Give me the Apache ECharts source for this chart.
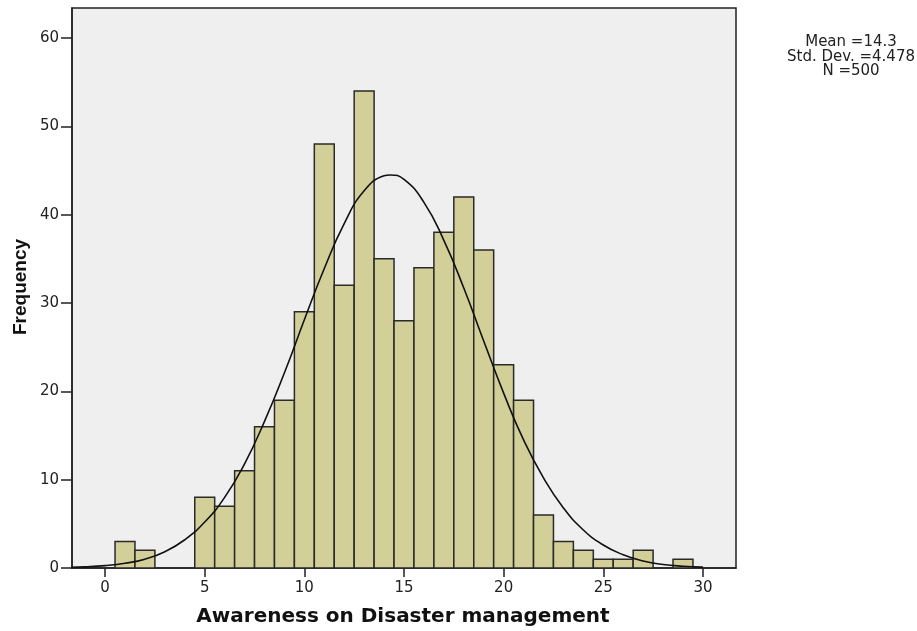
<!DOCTYPE html>
<html>
<head>
<meta charset="utf-8">
<script src="https://cdn.jsdelivr.net/npm/echarts@6/dist/echarts.min.js"></script>
<style>html,body{margin:0;padding:0;background:#fff;}#c{width:917px;height:631px;}</style>
</head>
<body>
<div id="c"></div>
<script>
// Histogram bins (centered on integer scores) and frequencies
const binCenters = [1,2,3,4,5,6,7,8,9,10,11,12,13,14,15,16,17,18,19,20,21,22,23,24,25,26,27,28,29];
const frequencies = [3,2,0,0,8,7,11,16,19,29,48,32,54,35,28,34,38,42,36,23,19,6,3,2,1,1,2,0,1];
// Normal curve points
const curveX = [-2,-1,0,1,2,3,4,5,6,7,8,9,10,11,12,13,14,14.3,15,16,17,18,19,20,21,22,23,24,25,26,27,28,29,30];
const curveY = [0.06,0.13,0.27,0.54,1.0,1.85,3.2,5.2,8.0,11.8,16.6,22.1,28.1,33.9,39.0,42.7,44.4,44.5,44.0,41.4,37.1,31.7,25.7,19.8,14.5,10.2,6.8,4.3,2.6,1.5,0.8,0.4,0.2,0.1];
const xTicks = [0,5,10,15,20,25,30];
const yTicks = [0,10,20,30,40,50,60];
const statsLines = ['Mean =14.3','Std. Dev. =4.478','N =500'];

const chart = echarts.init(document.getElementById('c'));
const barData = binCenters.map((c,i)=>[c,frequencies[i]]);
const curveData = curveX.map((x,i)=>[x,curveY[i]]);

chart.setOption({
  animation:false,
  grid:{left:72,top:8,right:181,bottom:63,show:true,backgroundColor:'#efefef',borderColor:'#222',borderWidth:1.5},
  xAxis:{type:'value',min:-1.66,max:31.66,
    axisLine:{show:true,onZero:false,lineStyle:{color:'#222',width:1.5}},
    axisTick:{show:true,length:9,customValues:xTicks,lineStyle:{color:'#222',width:1.5}},
    axisLabel:{customValues:xTicks,color:'#222',fontSize:15,fontFamily:'DejaVu Sans',margin:13},
    splitLine:{show:false}},
  yAxis:{type:'value',min:0,max:63.4,
    axisLine:{show:true,onZero:false,lineStyle:{color:'#222',width:1.5}},
    axisTick:{show:true,length:11,customValues:yTicks,lineStyle:{color:'#222',width:1.5}},
    axisLabel:{customValues:yTicks,color:'#222',fontSize:15,fontFamily:'DejaVu Sans',margin:13},
    splitLine:{show:false}},
  graphic:[
    {type:'text',x:403,y:617,style:{text:'Awareness on Disaster management',textAlign:'center',textVerticalAlign:'middle',font:'bold 20px "DejaVu Sans", Verdana',fill:'#111'}},
    {type:'text',x:21,y:287,rotation:Math.PI/2,style:{text:'Frequency',textAlign:'center',textVerticalAlign:'middle',font:'bold 19px "Liberation Sans", Arial',fill:'#111'}},
    {type:'text',x:851,y:57,style:{text:statsLines.join('\n'),textAlign:'center',textVerticalAlign:'middle',font:'15px "DejaVu Sans"',lineHeight:14.5,fill:'#222'}}
  ],
  series:[
    {type:'custom',data:barData,clip:true,
      renderItem:function(params,api){
        const c=api.value(0),v=api.value(1);
        if(!v) return null;
        const p0=api.coord([c-0.5,v]);
        const p1=api.coord([c+0.5,0]);
        return {type:'rect',shape:{x:p0[0],y:p0[1],width:p1[0]-p0[0],height:p1[1]-p0[1]},
          style:{fill:'#d3cf98',stroke:'#2a2a2a',lineWidth:1.5}};
      },z:2},
    {type:'line',data:curveData,smooth:true,showSymbol:false,lineStyle:{color:'#111',width:1.6},z:3,clip:true}
  ]
});
</script>
</body>
</html>
